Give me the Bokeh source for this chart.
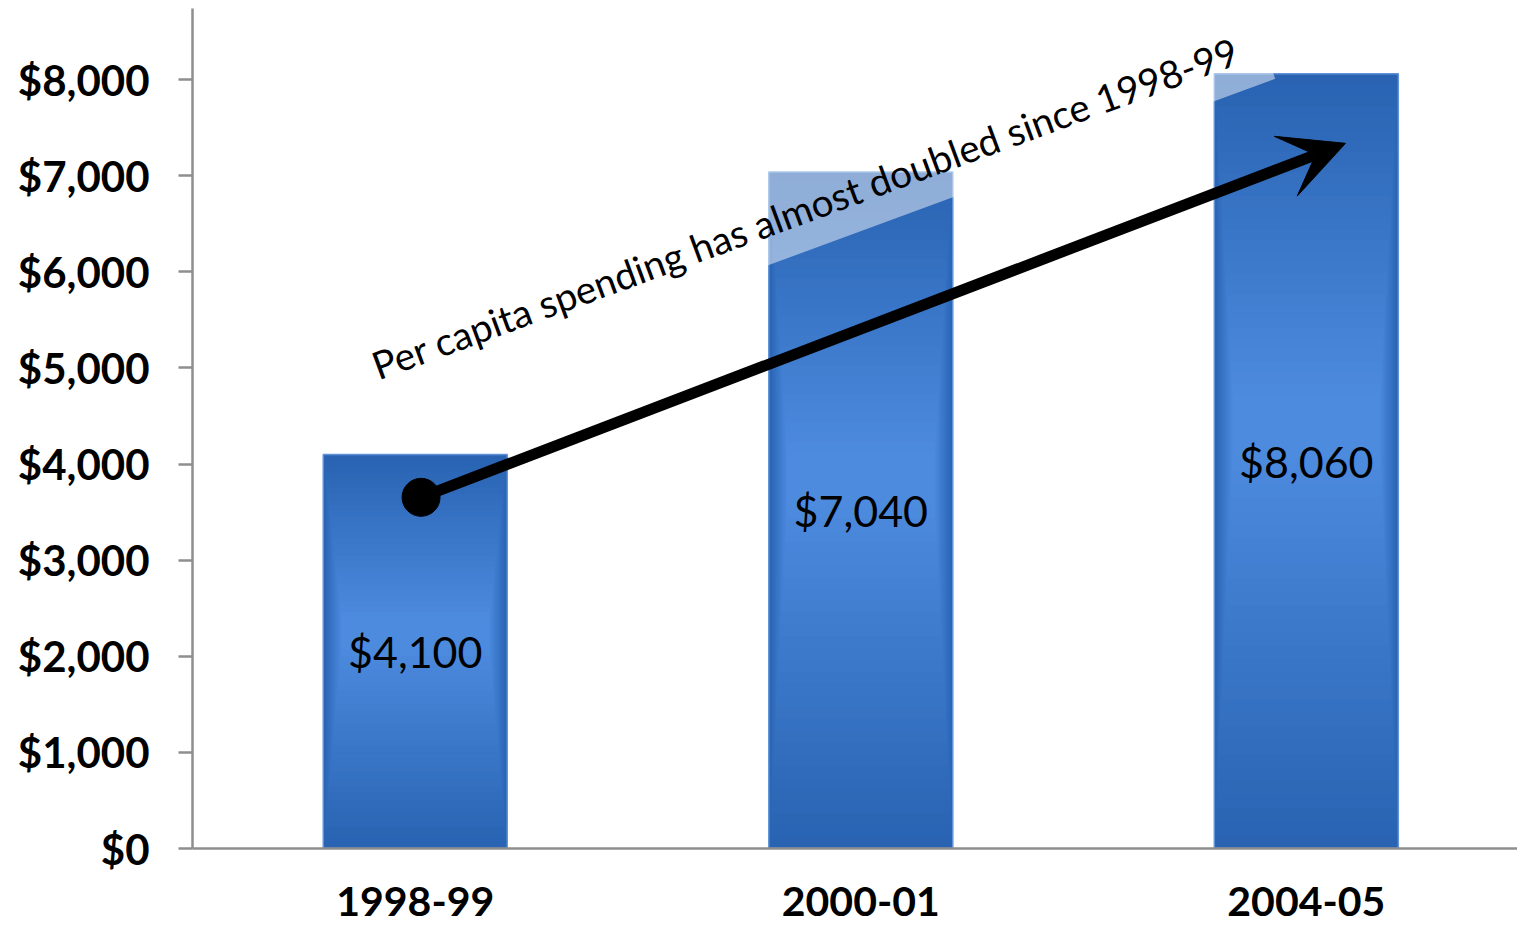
from bokeh.plotting import figure
from bokeh.models import (Range1d, FixedTicker, NumeralTickFormatter, Arrow, VeeHead,
                          Label, ColumnDataSource)
from bokeh.core.properties import value
from bokeh.embed import file_html
from bokeh.resources import INLINE

# ---- data ----
categories = ["1998-99", "2000-01", "2004-05"]
spending = [4100, 7040, 8060]
y_ticks = [0, 1000, 2000, 3000, 4000, 5000, 6000, 7000, 8000]
note_text = "Per capita spending has almost doubled since 1998-99"

# annotation anchors (offset from category centre, dollar value)
arrow_start = (0.013, 3654)
arrow_end = (0.088, 7337)
note_anchor = (-0.094, 5015)
gloss_anchor = (-0.094, 5250)

BAR_W = 0.413
FONT = "Lato"

xs = [i + 0.5 for i in range(len(categories))]

p = figure(width=1517, height=924, output_backend="svg", toolbar_location=None,
           x_range=Range1d(0, 2.974), y_range=Range1d(0, 8740),
           min_border_left=192, min_border_right=0, min_border_top=8, min_border_bottom=76)
p.outline_line_color = None
p.xgrid.visible = False
p.ygrid.visible = False
p.background_fill_color = "white"
p.border_fill_color = "white"

# ---- gradient bars (nested layers) ----
dark = (0x29, 0x63, 0xB2)
light = (0x4D, 0x8B, 0xDF)
N = 30
for k in range(N):
    t = k / (N - 1)
    col = "#%02x%02x%02x" % tuple(int(round(d + (l - d) * t)) for d, l in zip(dark, light))
    shrink = 1 - 0.92 * t
    w = BAR_W * (1 - 0.2 * t)
    tops = [v * 0.55 + v * 0.45 * shrink for v in spending]
    bots = [v * 0.55 - v * 0.55 * shrink for v in spending]
    src = ColumnDataSource(dict(left=[x - w / 2 for x in xs], right=[x + w / 2 for x in xs],
                                top=tops, bottom=bots))
    p.quad(left="left", right="right", top="top", bottom="bottom", source=src,
           fill_color=col, line_color=None)

p.vbar(x=xs, top=spending, width=BAR_W, bottom=0, fill_color=None,
       line_color="#6094d6", line_width=1.5)

# ---- value labels ----
p.text(x=xs, y=[v / 2 for v in spending], text=[f"${v:,}" for v in spending],
       text_align="center", text_baseline="middle", text_font=value(FONT),
       text_font_size="43px", text_color="black")

# ---- axes ----
p.yaxis.ticker = FixedTicker(ticks=y_ticks)
p.yaxis.formatter = NumeralTickFormatter(format="$0,0")
p.yaxis.axis_line_color = "#8e8e8e"
p.yaxis.axis_line_width = 2.5
p.yaxis.major_tick_line_color = "#8e8e8e"
p.yaxis.major_tick_line_width = 2.5
p.yaxis.major_tick_out = 14
p.yaxis.major_tick_in = 0
p.yaxis.minor_tick_line_color = None
p.yaxis.major_label_standoff = 29
p.yaxis.major_label_text_font = FONT
p.yaxis.major_label_text_font_style = "bold"
p.yaxis.major_label_text_font_size = "42px"
p.yaxis.major_label_text_color = "black"

p.xaxis.ticker = FixedTicker(ticks=xs)
p.xaxis.major_label_overrides = {x: c for x, c in zip(xs, categories)}
p.xaxis.axis_line_color = "#8e8e8e"
p.xaxis.axis_line_width = 2.5
p.xaxis.major_tick_line_color = None
p.xaxis.major_tick_out = 0
p.xaxis.major_tick_in = 0
p.xaxis.minor_tick_line_color = None
p.xaxis.major_label_standoff = 38
p.xaxis.major_label_text_line_height = 0.9
p.xaxis.major_label_text_font = FONT
p.xaxis.major_label_text_font_style = "bold"
p.xaxis.major_label_text_font_size = "41px"
p.xaxis.major_label_text_color = "black"

# ---- gloss box behind the note (translucent white) ----
gloss = Label(x=xs[0] + gloss_anchor[0], y=gloss_anchor[1], text=note_text,
              angle=20.2, angle_units="deg", text_font=FONT, text_font_size="38.5px",
              text_color="white", text_alpha=0.01, text_baseline="alphabetic", text_align="left",
              background_fill_color="white", background_fill_alpha=0.48,
              padding=dict(left=18, right=0, top=60, bottom=19))
p.add_layout(gloss)

# ---- note text ----
note = Label(x=xs[0] + note_anchor[0], y=note_anchor[1], text=note_text,
             angle=20.2, angle_units="deg", text_font=FONT, text_font_size="38.5px",
             text_color="black", text_baseline="alphabetic", text_align="left")
p.add_layout(note)

# ---- arrow ----
arrow = Arrow(x_start=xs[0] + arrow_start[0], y_start=arrow_start[1],
              x_end=xs[2] + arrow_end[0], y_end=arrow_end[1],
              line_color="black", line_width=11,
              end=VeeHead(size=64, fill_color="black", line_color="black"))
p.add_layout(arrow)
p.scatter(x=[xs[0] + arrow_start[0]], y=[arrow_start[1]], size=38, color="black")

open("out.html", "w").write(file_html(p, INLINE))
